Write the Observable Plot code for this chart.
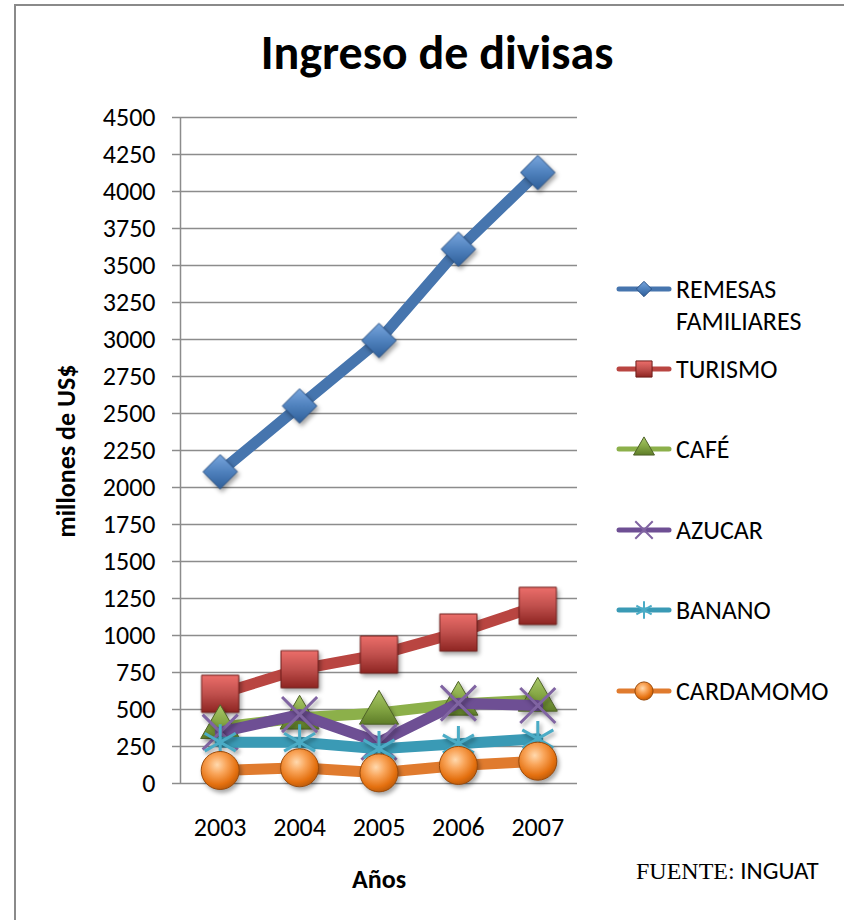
<!DOCTYPE html>
<html><head><meta charset="utf-8">
<script src="https://cdn.jsdelivr.net/npm/d3@7"></script>
<script src="https://cdn.jsdelivr.net/npm/@observablehq/plot@0.6"></script>
<style>
body{margin:0;background:#fff;}
#wrap{position:relative;width:844px;height:920px;overflow:hidden;font-family:Carlito,Lato,sans-serif;color:#000;}
#border{position:absolute;left:14px;top:4px;width:900px;height:1000px;border-left:2px solid #8a8a8a;border-top:2px solid #8a8a8a;}
#title{position:absolute;left:0;top:29px;width:874px;text-align:center;font-size:48px;line-height:48px;font-weight:bold;}
#chart{position:absolute;left:0;top:95px;}
.abs{position:absolute;white-space:nowrap;}
#ylabel{left:66px;top:451px;font-size:26px;line-height:26px;font-weight:bold;transform:translate(-50%,-50%) rotate(-90deg);}
#xlabel{left:379px;top:879px;font-size:26px;line-height:26px;font-weight:bold;transform:translate(-50%,-50%);}
#source{left:636px;top:858px;font-size:25px;line-height:26px;}
#source .serif{font-family:"Liberation Serif","DejaVu Serif",serif;font-size:24px;}
.legtext{font-size:26px;line-height:32px;}
</style></head>
<body>
<div id="wrap">
  <div id="border"></div>
  <div id="title">Ingreso de divisas</div>
  <div id="chart"></div>
  <div id="ylabel" class="abs">millones de US$</div>
  <div id="xlabel" class="abs">Años</div>
  <div id="source" class="abs"><span class="serif">FUENTE:</span> INGUAT</div>
  <div id="legend"></div>
</div>
<script>
// ---- data ----
const years = [2003, 2004, 2005, 2006, 2007];
const seriesNames = ["REMESAS FAMILIARES", "TURISMO", "CAFÉ", "AZUCAR", "BANANO", "CARDAMOMO"];
const remesas   = [2106, 2551, 2993, 3610, 4128];
const turismo   = [606, 772, 871, 1020, 1200];
const cafe      = [380, 444, 477, 538, 565];
const azucar    = [347, 466, 279, 543, 527];
const banano    = [279, 279, 234, 268, 302];
const cardamomo = [88, 106, 72, 122, 151];
const yTicks = d3.range(0, 4501, 250);

const seriesValues = [remesas, turismo, cafe, azucar, banano, cardamomo];

// ---- styles ----
const styles = [
  {line:"#4675AE", symbol:"diamond2", r:15.5, fill:"url(#gBlue)",  stroke:"#2B5285", sw:1, lsize:150},
  {line:"#B94541", symbol:"square",   r:21, fill:"url(#gRed)",   stroke:"#6E1E1B", sw:1, lsize:260},
  {line:"#8CB04A", symbol:"triangle", r:14.5, fill:"url(#gGreen)", stroke:"#4F6228", sw:1, lsize:190},
  {line:"#6E4F94", symbol:"times",    r:16, fill:"none",         stroke:"#8064A2", sw:3, lsize:200},
  {line:"#3A9AB5", symbol:"asterisk", r:17, fill:"none",         stroke:"#4BACC6", sw:3, lsize:220},
  {line:"#E07B2E", symbol:"circle",   r:19, fill:"url(#gOrange)",stroke:"#9A4A0A", sw:1, lsize:260}
];

const defsMark = () => {
  const defs = d3.create("svg:defs");
  const lin = (id, stops) => {
    const g = defs.append("linearGradient").attr("id", id).attr("x1",0).attr("y1",0).attr("x2",0).attr("y2",1);
    stops.forEach(([o,c]) => g.append("stop").attr("offset", o).attr("stop-color", c));
  };
  lin("gBlue",  [[0,"#79A6DD"],[0.5,"#4F81BD"],[1,"#2F5F99"]]);
  lin("gRed",   [[0,"#EC6E6A"],[0.5,"#C0504D"],[1,"#8E2522"]]);
  lin("gGreen", [[0,"#A9C86A"],[0.5,"#86A845"],[1,"#5E7D28"]]);
  const rg = defs.append("radialGradient").attr("id","gOrange").attr("cx",0.42).attr("cy",0.35).attr("r",0.7);
  [[0,"#FFD9AE"],[0.35,"#F9A55A"],[0.75,"#E4700F"],[1,"#B4570A"]].forEach(([o,c]) => rg.append("stop").attr("offset",o).attr("stop-color",c));
  return defs.node();
};

const xDomain = [years[0] - 0.5, years[years.length - 1] + 0.5];

const marks = [
  defsMark,
  Plot.ruleY(yTicks, {stroke:"#8c8c8c", strokeWidth:1.5}),
  Plot.ruleX([xDomain[0]], {stroke:"#8c8c8c", strokeWidth:1.5}),
  Plot.axisY({ticks: yTicks, tickSize:8, tickPadding:17, tickFormat: d => String(d), stroke:"#8c8c8c", strokeWidth:1.5, fill:"#000", label:null}),
  Plot.axisX({ticks: years, tickSize:0, tickPadding:34, tickFormat: d => String(d), fill:"#000", label:null})
];

seriesValues.forEach((vals, i) => {
  const rows = years.map((y, j) => ({year: y, value: vals[j]}));
  const s = styles[i];
  marks.push(Plot.line(rows, {x:"year", y:"value", stroke:s.line, strokeWidth:11, strokeLinejoin:"round", strokeLinecap:"round"}));
  marks.push(Plot.dot(rows, {x:"year", y:"value", symbol:s.symbol, r:s.r, fill:s.fill, stroke:s.stroke, strokeWidth:s.sw,
    imageFilter:"drop-shadow(2px 3px 2px rgba(0,0,0,0.35))"}));
});

const chart = Plot.plot({
  width: 844,
  height: 825,
  marginLeft: 180,
  marginRight: 267,
  marginTop: 22,
  marginBottom: 137,
  style: {fontFamily: "Carlito, Lato, sans-serif", fontSize: "26px", color: "#000", background: "transparent", overflow: "visible"},
  x: {type: "linear", domain: xDomain},
  y: {domain: [0, 4500]},
  marks
});
document.getElementById("chart").appendChild(chart);

// ---- legend ----
const legendY = [289, 369, 449, 530, 610, 691];
const legend = document.getElementById("legend");
const symMap = {diamond2: d3.symbolDiamond2, square: d3.symbolSquare, triangle: d3.symbolTriangle, times: d3.symbolTimes, asterisk: d3.symbolAsterisk, circle: d3.symbolCircle};
seriesNames.forEach((name, i) => {
  const s = styles[i];
  const cy = legendY[i];
  const sw = d3.create("svg").attr("width", 58).attr("height", 30)
    .style("position","absolute").style("left","615px").style("top", (cy - 15) + "px").style("overflow","visible");
  sw.append("line").attr("x1",4).attr("x2",54).attr("y1",15).attr("y2",15)
    .attr("stroke", s.line).attr("stroke-width",5).attr("stroke-linecap","round");
  sw.append("path").attr("transform","translate(29,15)")
    .attr("d", d3.symbol(symMap[s.symbol], s.lsize)())
    .attr("fill", s.fill).attr("stroke", s.stroke).attr("stroke-width", s.sw === 3 ? 2 : 1);
  legend.appendChild(sw.node());
  const t = document.createElement("div");
  t.className = "abs legtext";
  t.style.left = "676px";
  t.style.top = (cy - 16) + "px";
  if (name === "REMESAS FAMILIARES") t.innerHTML = "REMESAS<br>FAMILIARES"; else t.textContent = name;
  legend.appendChild(t);
});
</script>
</body></html>
